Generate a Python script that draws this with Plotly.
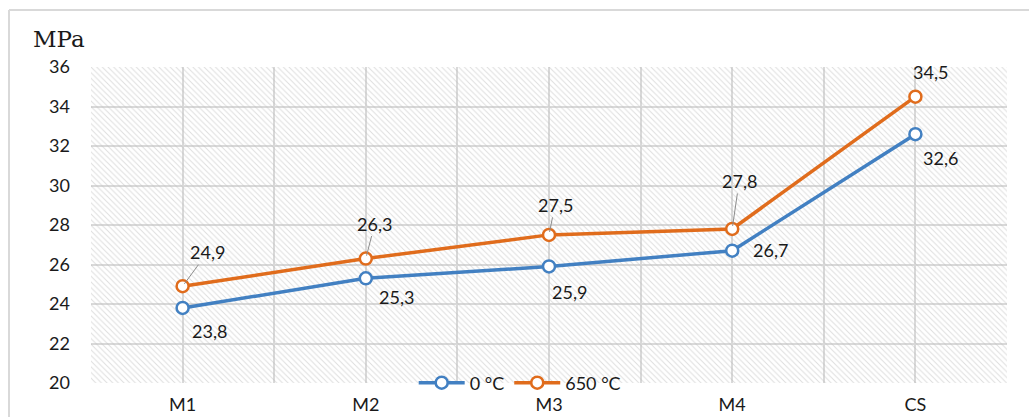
import plotly.graph_objects as go

# Data
categories = ["M1", "M2", "M3", "M4", "CS"]
values_0c = [23.8, 25.3, 25.9, 26.7, 32.6]
values_650c = [24.9, 26.3, 27.5, 27.8, 34.5]
series_names = ["0 °C", "650 °C"]
y_ticks = [20, 22, 24, 26, 28, 30, 32, 34, 36]
unit_label = "MPa"

BLUE = "#4280c2"
ORANGE = "#e06c1c"
GRID = "#d9d9d9"
TEXT = "#1a1a1a"
FONT = "Lato, Open Sans, Arial"

x_idx = list(range(len(categories)))
y_min, y_max = y_ticks[0], y_ticks[-1]
x_lo, x_hi = -0.5, len(categories) - 0.5

fig = go.Figure()

# Hatched plot-area background
fig.add_trace(go.Scatter(
    x=[x_lo, x_hi, x_hi, x_lo, x_lo],
    y=[y_min, y_min, y_max, y_max, y_min],
    mode="lines", line=dict(width=0), fill="toself",
    fillcolor="rgba(0,0,0,0)",
    fillpattern=dict(shape="\\", fgcolor="#bdbdbd", bgcolor="rgba(0,0,0,0)",
                     size=4, solidity=0.25),
    hoverinfo="skip", showlegend=False,
))

for name, vals, col in [(series_names[0], values_0c, BLUE),
                        (series_names[1], values_650c, ORANGE)]:
    fig.add_trace(go.Scatter(
        x=x_idx, y=vals, name=name, mode="lines+markers",
        line=dict(color=col, width=3.5),
        marker=dict(symbol="circle", size=12, color="white",
                    line=dict(color=col, width=2.5)),
    ))

def fmt(v):
    return f"{v:.1f}".replace(".", ",")

label_font = dict(family=FONT, size=18, color=TEXT)

# Lower series labels (no leaders): pixel offsets from the point
low_offsets = [(27, -23), (31, -19), (20, -26), (38, 1), (25, -24)]
for i, (v, (dx, dy)) in enumerate(zip(values_0c, low_offsets)):
    fig.add_annotation(x=i, y=v, text=fmt(v), showarrow=False,
                       xshift=dx, yshift=dy, font=label_font)

# Upper series labels, most with a thin leader line
up_offsets = [(25, -34, True), (9, -35, True), (6, -30, True), (7, -48, True), (15, -25, False)]
for i, (v, (dx, dy, lead)) in enumerate(zip(values_650c, up_offsets)):
    if lead:
        fig.add_annotation(x=i, y=v, text=fmt(v), showarrow=True,
                           ax=dx, ay=dy, arrowhead=0, arrowwidth=1,
                           arrowcolor="#8c8c8c", standoff=3,
                           font=label_font)
    else:
        fig.add_annotation(x=i, y=v, text=fmt(v), showarrow=False,
                           xshift=dx, yshift=-dy, font=label_font)

# Unit label
fig.add_annotation(xref="paper", yref="paper", x=-0.066, y=1.09,
                   xanchor="left", yanchor="middle", text=unit_label,
                   showarrow=False,
                   font=dict(family="DejaVu Serif, Liberation Serif", size=23, color=TEXT))

# Chart-area frame (top and left edges)
fig.add_shape(type="line", xref="paper", yref="paper",
              x0=-0.0895, x1=1.03, y0=1.1804, y1=1.1804,
              line=dict(color=GRID, width=2))
fig.add_shape(type="line", xref="paper", yref="paper",
              x0=-0.0895, x1=-0.0895, y0=1.1804, y1=-0.12,
              line=dict(color=GRID, width=2))

fig.update_layout(
    width=1029, height=417,
    margin=dict(l=91, r=22, t=67, b=34, autoexpand=False),
    paper_bgcolor="white", plot_bgcolor="white",
    font=dict(family=FONT, size=18, color=TEXT),
    legend=dict(orientation="h", x=0.468, y=0.0, xanchor="center", yanchor="middle",
                bgcolor="rgba(0,0,0,0)", font=dict(family=FONT, size=18, color=TEXT),
                itemwidth=46, tracegroupgap=0),
    showlegend=True,
)

fig.update_xaxes(
    range=[x_lo, x_hi], tickmode="array", tickvals=x_idx, ticktext=categories,
    showgrid=True, gridcolor=GRID, gridwidth=1.5,
    minor=dict(tickmode="array", tickvals=[k + 0.5 for k in range(-1, len(categories))],
               showgrid=True, gridcolor=GRID, gridwidth=1.5, ticks=""),
    zeroline=False, showline=False, ticks="", ticklabelstandoff=9,
    tickfont=dict(family=FONT, size=18, color=TEXT), automargin=False,
)
fig.update_yaxes(
    range=[y_min, y_max], tickmode="array", tickvals=y_ticks,
    showgrid=True, gridcolor=GRID, gridwidth=1.5,
    zeroline=False, showline=False, ticks="", ticklabelstandoff=20,
    tickfont=dict(family=FONT, size=18, color=TEXT), automargin=False,
)

fig.write_html("out.html")
